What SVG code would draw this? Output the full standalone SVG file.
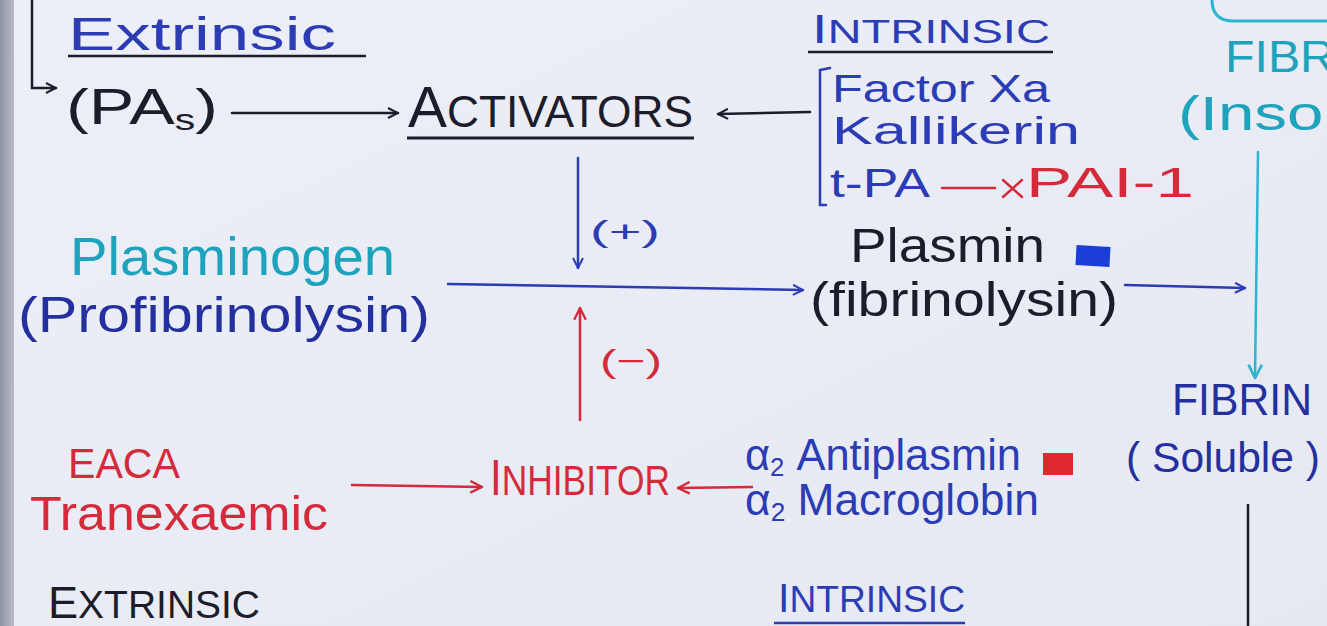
<svg xmlns="http://www.w3.org/2000/svg" width="1327" height="626" viewBox="0 0 1327 626">
<defs>
<linearGradient id="bg" x1="0" y1="0" x2="1" y2="1">
<stop offset="0" stop-color="#eceef8"/>
<stop offset="1" stop-color="#e6e8f2"/>
</linearGradient>
<linearGradient id="frame" x1="0" y1="0" x2="1" y2="0">
<stop offset="0" stop-color="#8d93a3"/>
<stop offset="1" stop-color="#b9bdc9"/>
</linearGradient>
<marker id="ab" viewBox="0 0 12 12" refX="11" refY="6" markerWidth="12" markerHeight="12" markerUnits="userSpaceOnUse" orient="auto">
<path d="M1,1 L11,6 L1,11" fill="none" stroke="#2b3cb5" stroke-width="2"/>
</marker>
<marker id="ak" viewBox="0 0 12 12" refX="11" refY="6" markerWidth="12" markerHeight="12" markerUnits="userSpaceOnUse" orient="auto">
<path d="M1,1 L11,6 L1,11" fill="none" stroke="#1c1c2a" stroke-width="2"/>
</marker>
<marker id="ar" viewBox="0 0 12 12" refX="11" refY="6" markerWidth="14" markerHeight="14" markerUnits="userSpaceOnUse" orient="auto">
<path d="M1,1 L11,6 L1,11" fill="none" stroke="#d42a3a" stroke-width="2"/>
</marker>
<marker id="ac" viewBox="0 0 12 12" refX="11" refY="6" markerWidth="16" markerHeight="16" markerUnits="userSpaceOnUse" orient="auto">
<path d="M1,1 L11,6 L1,11" fill="none" stroke="#2bb5cf" stroke-width="2"/>
</marker>
</defs>
<style>
text{font-family:"Liberation Sans","DejaVu Sans",sans-serif;}
.blue{fill:#2b3cb5;}
.dblue{fill:#23309e;}
.cyan{fill:#1ea3bd;}
.black{fill:#1c1c2a;}
.red{fill:#d42a3a;}
.ln{fill:none;stroke-width:2.5;stroke-linecap:round;}
</style>
<rect x="0" y="0" width="1327" height="626" fill="url(#bg)"/>
<rect x="0" y="0" width="14" height="626" fill="url(#frame)"/>

<g id="connectors">
<path class="ln" d="M32,0 L32,88 L56,88" stroke="#1c1c2a" marker-end="url(#ak)"/>
<line class="ln" x1="232" y1="113" x2="398" y2="113" stroke="#1c1c2a" stroke-width="2" marker-end="url(#ak)"/>
<line class="ln" x1="810" y1="112" x2="718" y2="114" stroke="#1c1c2a" stroke-width="2" marker-end="url(#ak)"/>
<line class="ln" x1="578" y1="158" x2="578" y2="268" stroke="#2b3cb5" marker-end="url(#ab)"/>
<line class="ln" x1="448" y1="284" x2="803" y2="290" stroke="#2b3cb5" stroke-width="2" marker-end="url(#ab)"/>
<line class="ln" x1="580" y1="420" x2="580" y2="308" stroke="#d42a3a" marker-end="url(#ar)"/>
<line class="ln" x1="1125" y1="285" x2="1245" y2="288" stroke="#2b3cb5" stroke-width="2" marker-end="url(#ab)"/>
<line class="ln" x1="1258" y1="152" x2="1255" y2="378" stroke="#2bb5cf" marker-end="url(#ac)"/>
<line class="ln" x1="352" y1="485" x2="482" y2="487" stroke="#d42a3a" marker-end="url(#ar)"/>
<line class="ln" x1="752" y1="487" x2="678" y2="488" stroke="#d42a3a" marker-end="url(#ar)"/>
<line class="ln" x1="942" y1="188" x2="995" y2="188" stroke="#d42a3a"/>
<path class="ln" d="M1003,180 L1022,197 M1022,180 L1003,197" stroke="#d42a3a"/>
<line class="ln" x1="1248" y1="505" x2="1248" y2="626" stroke="#1c1c2a"/>
</g>

<g id="extrinsic-top">
<text class="blue" x="68" y="50" font-size="47" textLength="268" lengthAdjust="spacingAndGlyphs">Extrinsic</text>
<line x1="68" y1="56" x2="366" y2="56" stroke="#1c1c2a" stroke-width="2.5"/>
</g>
<g id="pas">
<text class="black" x="66" y="124" font-size="50" textLength="152" lengthAdjust="spacingAndGlyphs">(PA<tspan font-size="30" dy="6">s</tspan><tspan dy="-6">)</tspan></text>
</g>
<g id="activators">
<text class="black" x="408" y="127" font-size="58" textLength="285" lengthAdjust="spacingAndGlyphs">A<tspan font-size="44">CTIVATORS</tspan></text>
<line x1="407" y1="138" x2="694" y2="138" stroke="#1c1c2a" stroke-width="3"/>
</g>
<g id="intrinsic-top">
<text class="blue" x="812" y="43" font-size="40" textLength="238" lengthAdjust="spacingAndGlyphs">I<tspan font-size="34">NTRINSIC</tspan></text>
<line x1="808" y1="52" x2="1053" y2="52" stroke="#1c1c2a" stroke-width="2.5"/>
</g>
<g id="intrinsic-list">
<path class="ln" d="M830,68 L820,70 L820,205 L826,205" stroke="#2b3cb5"/>
<text class="blue" x="832" y="102" font-size="38" textLength="218" lengthAdjust="spacingAndGlyphs">Factor Xa</text>
<text class="blue" x="832" y="144" font-size="38" textLength="248" lengthAdjust="spacingAndGlyphs">Kallikerin</text>
<text class="blue" x="830" y="197" font-size="40" textLength="100" lengthAdjust="spacingAndGlyphs">t-PA</text>
<text class="red" x="1026" y="197" font-size="42" textLength="168" lengthAdjust="spacingAndGlyphs">PAI-1</text>
</g>
<g id="fibrin-insoluble">
<path d="M1212,0 Q1212,20 1232,21 L1327,21" fill="none" stroke="#2bb5cf" stroke-width="3"/>
<text class="cyan" x="1225" y="72" font-size="44" textLength="110" lengthAdjust="spacingAndGlyphs">FIBR</text>
<text class="cyan" x="1178" y="130" font-size="48" textLength="160" lengthAdjust="spacingAndGlyphs">(Insol</text>
</g>
<g id="plus">
<text class="blue" x="590" y="242" font-size="30" textLength="70" lengthAdjust="spacingAndGlyphs">(+)</text>
</g>
<g id="minus">
<text class="red" x="600" y="372" font-size="32" textLength="62" lengthAdjust="spacingAndGlyphs">(−)</text>
</g>
<g id="plasminogen">
<text class="cyan" x="70" y="275" font-size="54" textLength="325" lengthAdjust="spacingAndGlyphs">Plasminogen</text>
<text class="dblue" x="18" y="332" font-size="50" textLength="412" lengthAdjust="spacingAndGlyphs">(Profibrinolysin)</text>
</g>
<g id="plasmin">
<text class="black" x="850" y="262" font-size="48" textLength="195" lengthAdjust="spacingAndGlyphs">Plasmin</text>
<rect x="1076" y="246" width="34" height="20" fill="#1b3fd6" transform="rotate(3 1093 256)"/>
<text class="black" x="810" y="316" font-size="48" textLength="308" lengthAdjust="spacingAndGlyphs">(fibrinolysin)</text>
</g>
<g id="fibrin-soluble">
<text class="dblue" x="1172" y="415" font-size="44" textLength="140" lengthAdjust="spacingAndGlyphs">FIBRIN</text>
<text class="dblue" x="1126" y="472" font-size="42" textLength="194" lengthAdjust="spacingAndGlyphs">( Soluble )</text>
</g>
<g id="drugs">
<text class="red" x="68" y="478" font-size="42" textLength="112" lengthAdjust="spacingAndGlyphs">EACA</text>
<text class="red" x="30" y="530" font-size="48" textLength="298" lengthAdjust="spacingAndGlyphs">Tranexaemic</text>
</g>
<g id="inhibitor">
<text class="red" x="490" y="495" font-size="50" textLength="180" lengthAdjust="spacingAndGlyphs">I<tspan font-size="42">NHIBITOR</tspan></text>
</g>
<g id="inhibitor-list">
<text class="blue" x="745" y="470" font-size="44" textLength="276" lengthAdjust="spacingAndGlyphs">α<tspan font-size="26" dy="6">2</tspan><tspan dy="-6"> Antiplasmin</tspan></text>
<rect x="1043" y="453" width="30" height="22" fill="#e0282e"/>
<text class="blue" x="745" y="515" font-size="44" textLength="294" lengthAdjust="spacingAndGlyphs">α<tspan font-size="26" dy="6">2</tspan><tspan dy="-6"> Macroglobin</tspan></text>
</g>
<g id="extrinsic-bottom">
<text class="black" x="48" y="618" font-size="44" textLength="212" lengthAdjust="spacingAndGlyphs">E<tspan font-size="38">XTRINSIC</tspan></text>
</g>
<g id="intrinsic-bottom">
<text class="blue" x="778" y="612" font-size="40" textLength="187" lengthAdjust="spacingAndGlyphs">I<tspan font-size="36">NTRINSIC</tspan></text>
<line x1="774" y1="623" x2="965" y2="623" stroke="#2b3cb5" stroke-width="2.5"/>
</g>
</svg>
